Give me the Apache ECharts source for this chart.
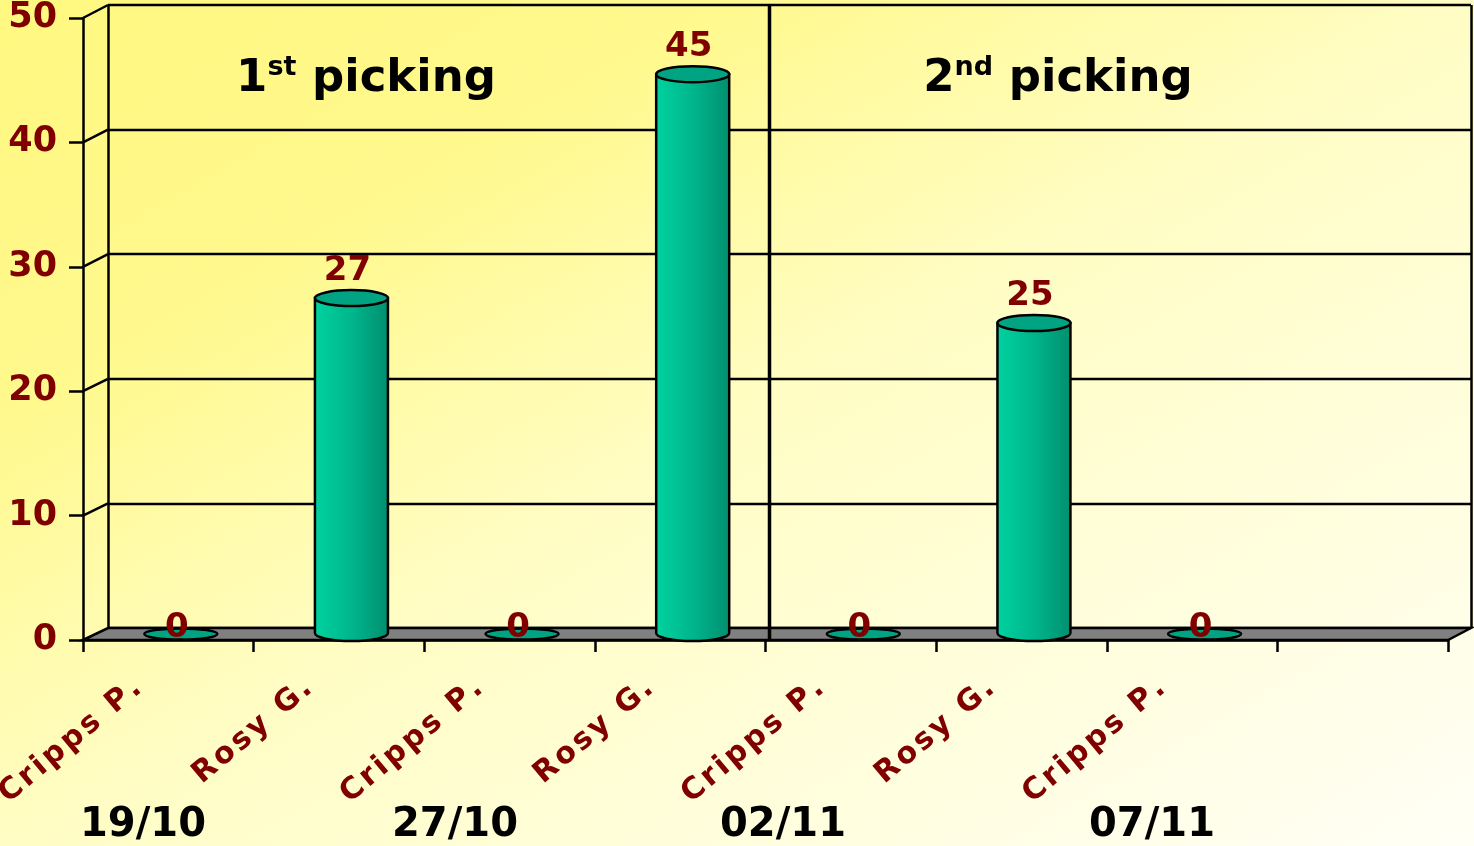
<!DOCTYPE html>
<html>
<head>
<meta charset="utf-8">
<script src="https://cdn.jsdelivr.net/npm/echarts@6/dist/echarts.min.js"></script>
<style>
html, body { margin: 0; padding: 0; }
#main {
  width: 1474px; height: 846px;
  background: linear-gradient(to bottom right, #fff880 0%, #fff98e 25%, #fffdc4 50%, #fffff6 100%);
}
</style>
</head>
<body>
<div id="main"></div>
<script>
// data
var categories = ['Cripps P.', 'Rosy G.', 'Cripps P.', 'Rosy G.', 'Cripps P.', 'Rosy G.', 'Cripps P.', ''];
var values = [0, 27, 0, 45, 0, 25, 0];
var dates = ['19/10', '27/10', '02/11', '07/11'];
var pickings = [['1', 'st'], ['2', 'nd']];

var DX = 25, DY = -12;       // depth of the 3D box
var RED = '#800000';
var FONT = 'DejaVu Sans';

function renderItem(params, api) {
  var v = api.value(1);
  if (isNaN(v)) return null;
  var top = api.coord([api.value(0), v]);
  var base = api.coord([api.value(0), 0]);
  var cx = top[0] + DX / 2;
  var rx = 36.5, ry = 8;
  var ty = top[1] + DY / 2, by = base[1] + DY / 2 - 1;
  var children = [];
  if (v > 0) {
    children.push({
      type: 'path',
      shape: {
        pathData: 'M' + (cx - rx) + ',' + ty + ' L' + (cx - rx) + ',' + by +
          ' A' + rx + ',' + ry + ' 0 0 0 ' + (cx + rx) + ',' + by +
          ' L' + (cx + rx) + ',' + ty + ' Z'
      },
      style: {
        fill: new echarts.graphic.LinearGradient(0, 0, 1, 0, [
          {offset: 0, color: '#00d3a0'},
          {offset: 0.5, color: '#00b68c'},
          {offset: 1, color: '#008e6e'}
        ]),
        stroke: '#000', lineWidth: 2.5
      }
    });
    children.push({
      type: 'ellipse',
      shape: {cx: cx, cy: ty, rx: rx, ry: ry},
      style: {fill: '#00a382', stroke: '#000', lineWidth: 2.5}
    });
  } else {
    children.push({
      type: 'ellipse',
      shape: {cx: cx, cy: by + 1, rx: rx, ry: 5.5},
      style: {fill: '#00a382', stroke: '#000', lineWidth: 2.5}
    });
  }
  children.push({
    type: 'text',
    style: {
      x: cx - 4, y: v > 0 ? ty - ry - 19 : by - 5,
      text: String(v),
      fill: RED, font: 'bold 34px "' + FONT + '"',
      align: 'center', verticalAlign: 'middle'
    },
    z2: 10
  });
  return {type: 'group', children: children};
}

var chart = echarts.init(document.getElementById('main'));
var option = {
  animation: false,
  backgroundColor: 'transparent',
  grid: [
    {left: 83, right: 26, top: 18, bottom: 206, outerBoundsMode: 'none', containLabel: false},
    {left: 108, right: 3, top: 5, bottom: 218, outerBoundsMode: 'none', containLabel: false}
  ],
  xAxis: [{
    type: 'category', gridIndex: 0, data: categories,
    axisLine: {show: true, lineStyle: {color: '#000', width: 2.5}},
    axisTick: {show: true, length: 12, lineStyle: {color: '#000', width: 2.5}},
    axisLabel: {
      interval: 0, rotate: 40, margin: 19, padding: [0, 40, 0, 0],
      color: RED, fontSize: 30, fontWeight: 'bold', fontFamily: FONT,
      // spread the letters a little, as in the picture
      formatter: function (v) { return v.split('').join('\u200a'); }
    },
    splitLine: {show: false}
  }, {
    type: 'value', gridIndex: 1, min: 0, max: 1, interval: 1,
    axisLine: {show: false}, axisTick: {show: false}, axisLabel: {show: false},
    splitLine: {show: true, lineStyle: {color: '#000', width: 2.5}}
  }],
  yAxis: [{
    type: 'value', gridIndex: 0, min: 0, max: 50, interval: 10,
    axisLine: {show: true, lineStyle: {color: '#000', width: 2.5}},
    axisTick: {show: true, length: 14, lineStyle: {color: '#000', width: 2.5}},
    axisLabel: {margin: 26, color: RED, fontSize: 35, fontWeight: 'bold', fontFamily: FONT},
    splitLine: {show: false}
  }, {
    type: 'value', gridIndex: 1, min: 0, max: 50, interval: 10,
    axisLine: {show: false}, axisTick: {show: false}, axisLabel: {show: false},
    splitLine: {show: true, lineStyle: {color: '#000', width: 2.4}}
  }],
  series: [{
    type: 'custom', xAxisIndex: 0, yAxisIndex: 0, z: 10,
    renderItem: renderItem,
    data: values.map(function (v, i) { return [i, v]; })
  }]
};
chart.setOption(option);

// frame: floor, side wall, divider and text annotations
var p0 = chart.convertToPixel({gridIndex: 0}, [0, 0]);
var p1 = chart.convertToPixel({gridIndex: 0}, [1, 0]);
var band = p1[0] - p0[0];
var xl = p0[0] - band / 2;
var xr = xl + band * categories.length;
var bl = chart.convertToPixel({gridIndex: 1}, [0, 0]);
var br = chart.convertToPixel({gridIndex: 1}, [1, 0]);
var btop = chart.convertToPixel({gridIndex: 1}, [0, 50]);

var g = [];
g.push({
  type: 'polygon', z: 1,
  shape: {points: [[xl, p0[1]], [bl[0], bl[1]], [br[0], br[1]], [xr, p0[1]]]},
  style: {fill: '#808080', stroke: '#000', lineWidth: 2.5}
});
for (var t = 10; t <= 50; t += 10) {
  var f = chart.convertToPixel({gridIndex: 0}, [0, t]);
  var b = chart.convertToPixel({gridIndex: 1}, [0, t]);
  g.push({
    type: 'line', z: 1,
    shape: {x1: xl, y1: f[1], x2: b[0], y2: b[1]},
    style: {stroke: '#000', lineWidth: 2.5}
  });
}
var xd = xl + band * 4 + 4;
g.push({
  type: 'line', z: 5,
  shape: {x1: xd, y1: btop[1], x2: xd, y2: p0[1]},
  style: {stroke: '#000', lineWidth: 3.5}
});

var dateX = [143, 455, 783, 1152];
dates.forEach(function (d, i) {
  g.push({
    type: 'text', z: 5,
    style: {x: dateX[i], y: 826, text: d, fill: '#000',
      font: 'bold 40px "' + FONT + '"', align: 'center', verticalAlign: 'middle'}
  });
});
var pickX = [366, 1058];
pickings.forEach(function (p, i) {
  g.push({
    type: 'text', z: 5,
    style: {
      x: pickX[i], y: 79, align: 'center', verticalAlign: 'middle',
      text: '{a|' + p[0] + '}{b|' + p[1] + '}{a| picking}',
      rich: {
        a: {fontSize: 45, fontWeight: 'bold', fontFamily: FONT, fill: '#000', lineHeight: 50},
        b: {fontSize: 27, fontWeight: 'bold', fontFamily: FONT, fill: '#000', verticalAlign: 'top', lineHeight: 50}
      }
    }
  });
});
chart.setOption({graphic: g});
</script>
</body>
</html>
